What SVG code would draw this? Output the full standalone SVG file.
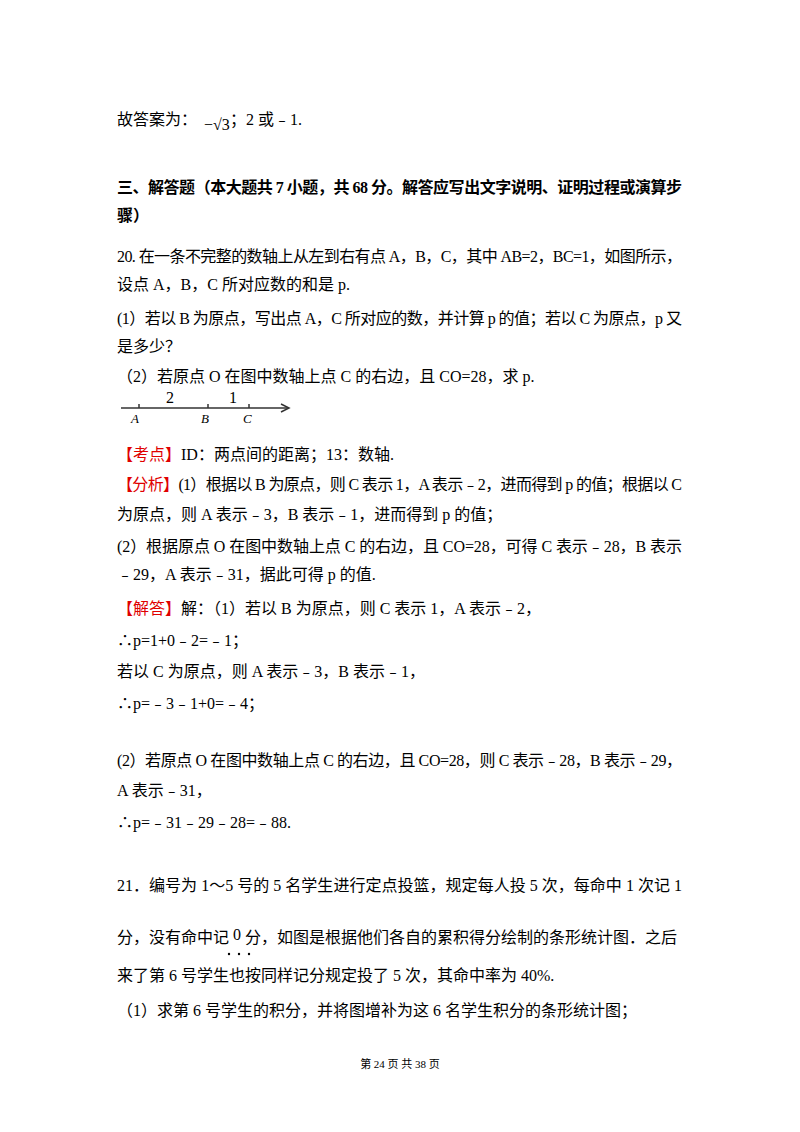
<svg xmlns="http://www.w3.org/2000/svg" width="800" height="1132" viewBox="0 0 800 1132">
<style>
text{font-family:"Liberation Serif","Noto Sans CJK SC",serif;font-size:16px;fill:#000}
.b{font-weight:bold}
.r{fill:#e00000}
.i{font-style:italic;font-size:13px}
.f{font-size:11px}
</style>
<rect width="800" height="1132" fill="#fff"/>
<g id="text">
<text x="117" y="125">故答案为：</text>
<text x="204" y="130" font-size="14">−√3</text>
<text x="230" y="125">；2 或﹣1.</text>
<text x="117" y="193" class="b" textLength="565">三、解答题（本大题共 7 小题，共 68 分。解答应写出文字说明、证明过程或演算步</text>
<text x="117" y="221" class="b">骤）</text>
<text x="117" y="262" textLength="565">20. 在一条不完整的数轴上从左到右有点 A，B，C，其中 AB=2，BC=1，如图所示，</text>
<text x="117" y="290">设点 A，B，C 所对应数的和是 p.</text>
<text x="117" y="324" textLength="565">(1）若以 B 为原点，写出点 A，C 所对应的数，并计算 p 的值；若以 C 为原点，p 又</text>
<text x="117" y="352">是多少？</text>
<text x="117" y="382">（2）若原点 O 在图中数轴上点 C 的右边，且 CO=28，求 p.</text>
<text x="117" y="460"><tspan class="r">【考点】</tspan>ID：两点间的距离；13：数轴.</text>
<text x="117" y="490" textLength="565"><tspan class="r">【分析】</tspan>(1）根据以 B 为原点，则 C 表示 1，A 表示﹣2，进而得到 p 的值；根据以 C</text>
<text x="117" y="520">为原点，则 A 表示﹣3，B 表示﹣1，进而得到 p 的值；</text>
<text x="117" y="552" textLength="565">(2）根据原点 O 在图中数轴上点 C 的右边，且 CO=28，可得 C 表示﹣28，B 表示</text>
<text x="117" y="580">﹣29，A 表示﹣31，据此可得 p 的值.</text>
<text x="117" y="614"><tspan class="r">【解答】</tspan>解：（1）若以 B 为原点，则 C 表示 1，A 表示﹣2，</text>
<text x="117" y="646">∴p=1+0﹣2=﹣1；</text>
<text x="117" y="677">若以 C 为原点，则 A 表示﹣3，B 表示﹣1，</text>
<text x="117" y="709">∴p=﹣3﹣1+0=﹣4；</text>
<text x="117" y="766" textLength="565">(2）若原点 O 在图中数轴上点 C 的右边，且 CO=28，则 C 表示﹣28，B 表示﹣29，</text>
<text x="117" y="796">A 表示﹣31，</text>
<text x="117" y="828">∴p=﹣31﹣29﹣28=﹣88.</text>
<text x="117" y="891" textLength="565">21．编号为 1～5 号的 5 名学生进行定点投篮，规定每人投 5 次，每命中 1 次记 1</text>
<text x="117" y="943">分，没有命中记 <tspan dy="-3">0</tspan><tspan dy="3"> 分，如图是根据他们各自的累积得分绘制的条形统计图．之后</tspan></text>
<circle cx="229" cy="954" r="1.2" fill="#000"/><circle cx="239" cy="954" r="1.2" fill="#000"/><circle cx="249" cy="954" r="1.2" fill="#000"/>
<text x="117" y="981">来了第 6 号学生也按同样记分规定投了 5 次，其命中率为 40%.</text>
<text x="117" y="1016">（1）求第 6 号学生的积分，并将图增补为这 6 名学生积分的条形统计图；</text>
<text x="400" y="1068" text-anchor="middle" class="f">第 24 页 共 38 页</text>
</g>
<g id="numberline" stroke="#333" stroke-width="1.5" fill="none">
<line x1="121" y1="408" x2="288" y2="408"/>
<path d="M281 404 L289 408 L281 412"/>
<line x1="139" y1="404" x2="139" y2="408"/>
<line x1="208" y1="404" x2="208" y2="408"/>
<line x1="249" y1="404" x2="249" y2="408"/>
</g>
<g id="nl-labels">
<text x="131" y="423" class="i">A</text>
<text x="201" y="423" class="i">B</text>
<text x="243" y="423" class="i">C</text>
<text x="166" y="403" font-size="13">2</text>
<text x="229" y="403" font-size="13">1</text>
</g>
</svg>
